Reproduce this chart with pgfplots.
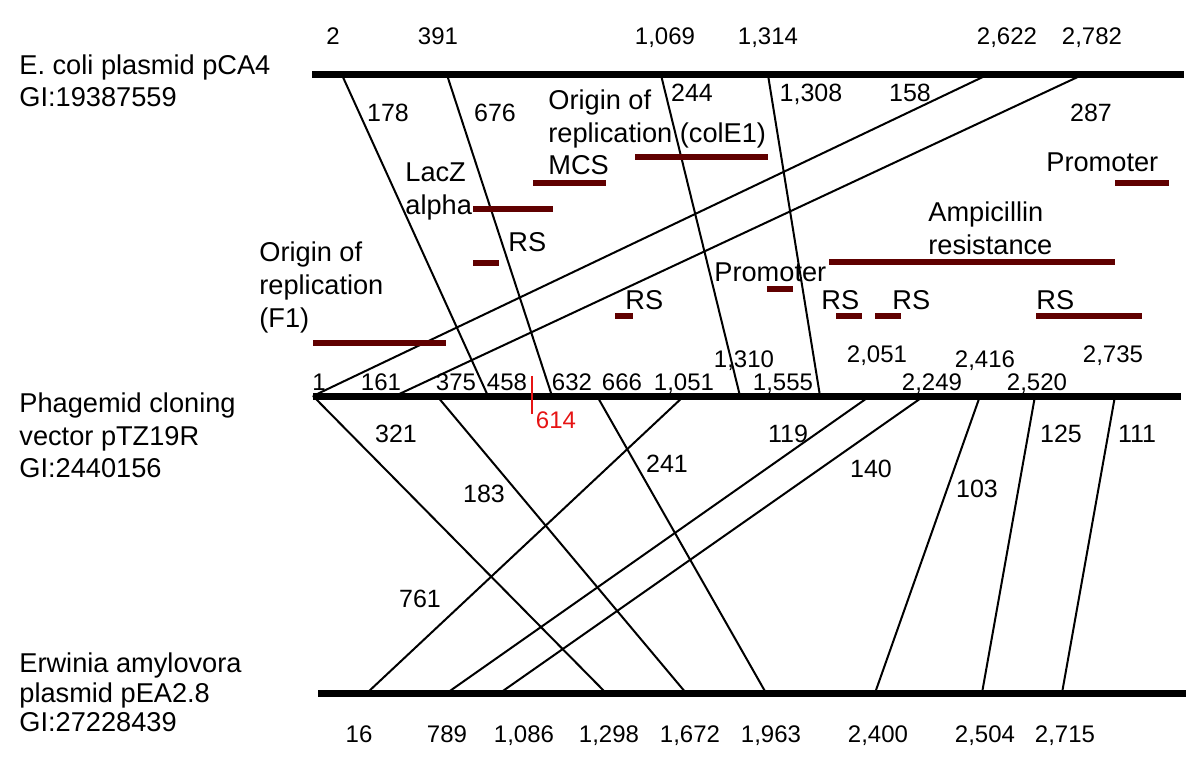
\documentclass[border=0pt]{standalone}
\usepackage{pgfplots}
\pgfplotsset{compat=1.18}
\usepackage{fontspec}
\setmainfont{Liberation Sans}
\definecolor{feat}{RGB}{96,0,0}
\definecolor{redmark}{RGB}{230,20,20}
\begin{document}
\begin{tikzpicture}
\tikzset{
  big/.style={font=\fontsize{13.6}{16}\selectfont,inner sep=0pt},
  mid/.style={font=\fontsize{12.5}{15}\selectfont,inner sep=0pt},
  sm/.style={font=\fontsize{12}{14}\selectfont,inner sep=0pt},
}
\begin{axis}[width=600pt,height=385pt,scale only axis,
  xmin=0,xmax=1200,ymin=0,ymax=770,y dir=reverse,
  hide axis,clip=false,
  every axis plot/.append style={mark=none}]

% fixed frame of the picture (invisible)
\path (axis cs:0,0) rectangle (axis cs:1200,770);

% --- sequence bars
\addplot[black,line width=3.5pt] coordinates {(312,75) (1184,75)};
\addplot[black,line width=3.5pt] coordinates {(313,396) (1181,396)};
\addplot[black,line width=3.5pt] coordinates {(318,693) (1186,693)};

% --- top-to-middle alignments
\addplot[black,line width=1pt] coordinates {(342,75) (488,396)};
\addplot[black,line width=1pt] coordinates {(447,75) (552,396)};
\addplot[black,line width=1pt] coordinates {(661,75) (740,396)};
\addplot[black,line width=1pt] coordinates {(768,75) (820,396)};
\addplot[black,line width=1pt] coordinates {(987,75) (313,396)};
\addplot[black,line width=1pt] coordinates {(1082,75) (395,396)};

% --- middle-to-bottom alignments
\addplot[black,line width=1pt] coordinates {(313,396) (606,693)};
\addplot[black,line width=1pt] coordinates {(437,396) (686,693)};
\addplot[black,line width=1pt] coordinates {(597,396) (766,693)};
\addplot[black,line width=1pt] coordinates {(684,396) (367,693)};
\addplot[black,line width=1pt] coordinates {(870,396) (447,693)};
\addplot[black,line width=1pt] coordinates {(924,396) (500,693)};
\addplot[black,line width=1pt] coordinates {(980,396) (875,693)};
\addplot[black,line width=1pt] coordinates {(1035,396) (982,693)};
\addplot[black,line width=1pt] coordinates {(1115,396) (1062,693)};

% --- red marker 614
\addplot[redmark,line width=1pt] coordinates {(532,376) (532,414)};

% --- feature bars
\addplot[feat,line width=3pt] coordinates {(635,157) (768,157)};
\addplot[feat,line width=3pt] coordinates {(533,183) (606,183)};
\addplot[feat,line width=3pt] coordinates {(473,209) (553,209)};
\addplot[feat,line width=3pt] coordinates {(473,263) (499,263)};
\addplot[feat,line width=3pt] coordinates {(313,343) (446,343)};
\addplot[feat,line width=3pt] coordinates {(615,316) (633,316)};
\addplot[feat,line width=3pt] coordinates {(767,289) (793,289)};
\addplot[feat,line width=3pt] coordinates {(829,262) (1115,262)};
\addplot[feat,line width=3pt] coordinates {(836,316) (862,316)};
\addplot[feat,line width=3pt] coordinates {(875,316) (901,316)};
\addplot[feat,line width=3pt] coordinates {(1036,316) (1142,316)};
\addplot[feat,line width=3pt] coordinates {(1115,183) (1169,183)};

% --- left labels
\node[big,anchor=base west] at (axis cs:19,75) {E.\ coli plasmid pCA4};
\node[big,anchor=base west] at (axis cs:19,107) {GI:19387559};
\node[big,anchor=base west] at (axis cs:19,413) {Phagemid cloning};
\node[big,anchor=base west] at (axis cs:19,445) {vector pTZ19R};
\node[big,anchor=base west] at (axis cs:19,477) {GI:2440156};
\node[big,anchor=base west] at (axis cs:19,672) {Erwinia amylovora};
\node[big,anchor=base west] at (axis cs:19,702) {plasmid pEA2.8};
\node[big,anchor=base west] at (axis cs:19,731) {GI:27228439};

% --- top position numbers
\node[sm,anchor=base] at (axis cs:333,45) {2};
\node[sm,anchor=base] at (axis cs:438,45) {391};
\node[sm,anchor=base] at (axis cs:665,45) {1,069};
\node[sm,anchor=base] at (axis cs:768,45) {1,314};
\node[sm,anchor=base] at (axis cs:1007,45) {2,622};
\node[sm,anchor=base] at (axis cs:1092,45) {2,782};

% --- upper segment lengths
\node[mid,anchor=base] at (axis cs:388,122) {178};
\node[mid,anchor=base] at (axis cs:495,122) {676};
\node[mid,anchor=base] at (axis cs:692,102) {244};
\node[mid,anchor=base] at (axis cs:811,102) {1,308};
\node[mid,anchor=base] at (axis cs:910,102) {158};
\node[mid,anchor=base] at (axis cs:1091,122) {287};

% --- feature labels
\node[big,anchor=base west] at (axis cs:548,110) {Origin of};
\node[big,anchor=base west] at (axis cs:548,143) {replication (colE1)};
\node[big,anchor=base west] at (axis cs:548,175) {MCS};
\node[big,anchor=base west] at (axis cs:405,182) {LacZ};
\node[big,anchor=base west] at (axis cs:405,215) {alpha};
\node[big,anchor=base west] at (axis cs:508,252) {RS};
\node[big,anchor=base west] at (axis cs:259,262) {Origin of};
\node[big,anchor=base west] at (axis cs:259,295) {replication};
\node[big,anchor=base west] at (axis cs:259,328) {(F1)};
\node[big,anchor=base west] at (axis cs:625,310) {RS};
\node[big,anchor=base west] at (axis cs:714,282) {Promoter};
\node[big,anchor=base west] at (axis cs:821,310) {RS};
\node[big,anchor=base west] at (axis cs:892,310) {RS};
\node[big,anchor=base west] at (axis cs:1036,310) {RS};
\node[big,anchor=base west] at (axis cs:928,222) {Ampicillin};
\node[big,anchor=base west] at (axis cs:928,255) {resistance};
\node[big,anchor=base west] at (axis cs:1046,172) {Promoter};

% --- middle position numbers
\node[sm,anchor=base] at (axis cs:319,391) {1};
\node[sm,anchor=base] at (axis cs:381,391) {161};
\node[sm,anchor=base] at (axis cs:456,391) {375};
\node[sm,anchor=base] at (axis cs:507,391) {458};
\node[sm,anchor=base] at (axis cs:572,391) {632};
\node[sm,anchor=base] at (axis cs:622,391) {666};
\node[sm,anchor=base] at (axis cs:684,391) {1,051};
\node[sm,anchor=base] at (axis cs:783,391) {1,555};
\node[sm,anchor=base] at (axis cs:932,391) {2,249};
\node[sm,anchor=base] at (axis cs:1037,391) {2,520};
\node[sm,anchor=base] at (axis cs:744,367) {1,310};
\node[sm,anchor=base] at (axis cs:877,363) {2,051};
\node[sm,anchor=base] at (axis cs:985,367) {2,416};
\node[sm,anchor=base] at (axis cs:1113,363) {2,735};
\node[sm,anchor=base,text=redmark] at (axis cs:556,429) {614};

% --- lower segment lengths
\node[mid,anchor=base] at (axis cs:396,443) {321};
\node[mid,anchor=base] at (axis cs:484,502) {183};
\node[mid,anchor=base] at (axis cs:667,473) {241};
\node[mid,anchor=base] at (axis cs:420,607) {761};
\node[mid,anchor=base] at (axis cs:788,443) {119};
\node[mid,anchor=base] at (axis cs:871,477) {140};
\node[mid,anchor=base] at (axis cs:977,497) {103};
\node[mid,anchor=base] at (axis cs:1061,443) {125};
\node[mid,anchor=base] at (axis cs:1137,443) {111};

% --- bottom position numbers
\node[sm,anchor=base] at (axis cs:359,742) {16};
\node[sm,anchor=base] at (axis cs:447,742) {789};
\node[sm,anchor=base] at (axis cs:524,742) {1,086};
\node[sm,anchor=base] at (axis cs:609,742) {1,298};
\node[sm,anchor=base] at (axis cs:690,742) {1,672};
\node[sm,anchor=base] at (axis cs:771,742) {1,963};
\node[sm,anchor=base] at (axis cs:878,742) {2,400};
\node[sm,anchor=base] at (axis cs:985,742) {2,504};
\node[sm,anchor=base] at (axis cs:1065,742) {2,715};
\end{axis}
\end{tikzpicture}
\end{document}
